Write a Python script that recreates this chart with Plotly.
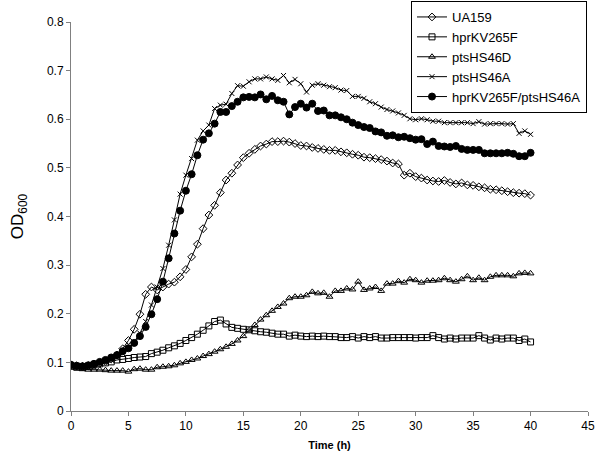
import plotly.graph_objects as go

time_h = [i * 0.5 for i in range(81)]

ua159 = [0.095, 0.093, 0.092, 0.093, 0.095, 0.098, 0.102, 0.107, 0.115, 0.128,
         0.145, 0.168, 0.199, 0.240, 0.255, 0.249, 0.255, 0.261, 0.265, 0.276,
         0.291, 0.317, 0.343, 0.375, 0.403, 0.423, 0.449, 0.475, 0.489, 0.506,
         0.521, 0.530, 0.538, 0.545, 0.549, 0.554, 0.554, 0.555, 0.553, 0.550,
         0.546, 0.545, 0.542, 0.540, 0.538, 0.536, 0.536, 0.533, 0.531, 0.528,
         0.526, 0.522, 0.521, 0.519, 0.517, 0.514, 0.510, 0.508, 0.485, 0.489,
         0.482, 0.479, 0.475, 0.473, 0.472, 0.474, 0.470, 0.467, 0.469, 0.465,
         0.464, 0.461, 0.459, 0.456, 0.455, 0.453, 0.451, 0.449, 0.448, 0.447,
         0.444]

hprKV265F = [0.092, 0.090, 0.090, 0.092, 0.095, 0.097, 0.099, 0.101, 0.105, 0.106,
             0.108, 0.110, 0.111, 0.112, 0.118, 0.121, 0.125, 0.130, 0.134, 0.139,
             0.145, 0.151, 0.158, 0.166, 0.175, 0.184, 0.187, 0.179, 0.172, 0.170,
             0.168, 0.167, 0.165, 0.163, 0.162, 0.160, 0.158, 0.158, 0.154, 0.156,
             0.154, 0.153, 0.154, 0.153, 0.154, 0.153, 0.153, 0.151, 0.151, 0.153,
             0.150, 0.153, 0.151, 0.153, 0.150, 0.150, 0.151, 0.151, 0.151, 0.151,
             0.150, 0.151, 0.151, 0.155, 0.151, 0.148, 0.150, 0.148, 0.150, 0.150,
             0.150, 0.155, 0.150, 0.146, 0.150, 0.148, 0.150, 0.150, 0.145, 0.148,
             0.142]

ptsHS46D = [0.090, 0.088, 0.086, 0.085, 0.085, 0.085, 0.084, 0.083, 0.083, 0.083,
            0.081, 0.086, 0.087, 0.085, 0.085, 0.090, 0.091, 0.092, 0.094, 0.098,
            0.101, 0.105, 0.108, 0.113, 0.117, 0.122, 0.127, 0.132, 0.138, 0.145,
            0.154, 0.166, 0.177, 0.188, 0.197, 0.206, 0.214, 0.221, 0.232, 0.235,
            0.235, 0.238, 0.245, 0.242, 0.243, 0.235, 0.247, 0.247, 0.252, 0.250,
            0.266, 0.249, 0.252, 0.255, 0.247, 0.262, 0.262, 0.267, 0.264, 0.271,
            0.269, 0.264, 0.268, 0.268, 0.269, 0.273, 0.269, 0.266, 0.271, 0.277,
            0.269, 0.274, 0.269, 0.276, 0.279, 0.279, 0.279, 0.277, 0.283, 0.284,
            0.283]

ptsHS46A = [0.095, 0.094, 0.093, 0.094, 0.096, 0.098, 0.101, 0.105, 0.110, 0.118,
            0.130, 0.142, 0.160, 0.184, 0.218, 0.255, 0.293, 0.341, 0.393, 0.446,
            0.485, 0.519, 0.557, 0.576, 0.588, 0.622, 0.629, 0.631, 0.653, 0.669,
            0.668, 0.677, 0.683, 0.683, 0.687, 0.683, 0.680, 0.690, 0.675, 0.682,
            0.673, 0.656, 0.670, 0.673, 0.670, 0.667, 0.665, 0.660, 0.659, 0.647,
            0.647, 0.643, 0.636, 0.632, 0.625, 0.620, 0.617, 0.613, 0.608, 0.601,
            0.599, 0.601, 0.599, 0.596, 0.596, 0.593, 0.593, 0.593, 0.593, 0.593,
            0.591, 0.595, 0.590, 0.591, 0.591, 0.591, 0.590, 0.591, 0.571, 0.576,
            0.569]

double_mutant = [0.095, 0.093, 0.092, 0.094, 0.097, 0.101, 0.105, 0.110, 0.115, 0.123,
                 0.129, 0.140, 0.154, 0.173, 0.199, 0.230, 0.266, 0.314, 0.365, 0.412,
                 0.453, 0.487, 0.526, 0.558, 0.571, 0.591, 0.615, 0.615, 0.627, 0.636,
                 0.645, 0.646, 0.645, 0.651, 0.641, 0.648, 0.639, 0.636, 0.610, 0.625,
                 0.632, 0.624, 0.632, 0.617, 0.618, 0.608, 0.608, 0.604, 0.600, 0.593,
                 0.588, 0.584, 0.582, 0.575, 0.573, 0.566, 0.567, 0.563, 0.564, 0.561,
                 0.558, 0.559, 0.549, 0.554, 0.545, 0.544, 0.543, 0.545, 0.539, 0.537,
                 0.537, 0.537, 0.530, 0.530, 0.530, 0.530, 0.531, 0.529, 0.524, 0.524,
                 0.531]

series_names = ["UA159", "hprKV265F", "ptsHS46D", "ptsHS46A", "hprKV265F/ptsHS46A"]
series_values = [ua159, hprKV265F, ptsHS46D, ptsHS46A, double_mutant]
marker_styles = [
    dict(symbol="diamond-open", size=6),
    dict(symbol="square-open", size=6),
    dict(symbol="triangle-up-open", size=6),
    dict(symbol="x-thin-open", size=5),
    dict(symbol="circle", size=7),
]

fig = go.Figure()
for name, vals, mk in zip(series_names, series_values, marker_styles):
    fig.add_trace(go.Scatter(
        x=time_h, y=vals, name=name, mode="lines+markers",
        line=dict(color="black", width=1),
        marker=dict(color="black", line=dict(color="black", width=1), **mk),
    ))

font_family = "Liberation Sans, Arial, sans-serif"
fig.update_layout(
    width=600, height=462,
    margin=dict(l=71, r=12, t=22, b=51, autoexpand=False),
    plot_bgcolor="white", paper_bgcolor="white",
    font=dict(family=font_family, size=12, color="black"),
    showlegend=True,
    legend=dict(
        xref="container", yref="container",
        x=411 / 600, y=1 - 1 / 462, xanchor="left", yanchor="top",
        bordercolor="black", borderwidth=1, bgcolor="white",
        font=dict(size=13), tracegroupgap=0,
    ),
)
fig.update_xaxes(
    range=[0, 45], dtick=5, tick0=0,
    showline=True, linecolor="#808080", linewidth=1,
    ticks="outside", ticklen=4, tickcolor="#808080",
    showgrid=False, zeroline=False, automargin=False,
    title=dict(text="<b>Time (h)</b>", font=dict(size=11), standoff=8),
    tickfont=dict(size=12),
)
fig.update_yaxes(
    range=[0, 0.8], dtick=0.1, tick0=0, tickformat="~g",
    showline=True, linecolor="#808080", linewidth=1,
    ticks="outside", ticklen=4, tickcolor="#808080",
    showgrid=False, zeroline=False, automargin=False,
    title=dict(text="OD<sub>600</sub>", font=dict(size=17), standoff=18),
    tickfont=dict(size=12),
)

fig.write_html("out.html", config={"displayModeBar": False},
               post_script="document.body.style.margin='0px';")
